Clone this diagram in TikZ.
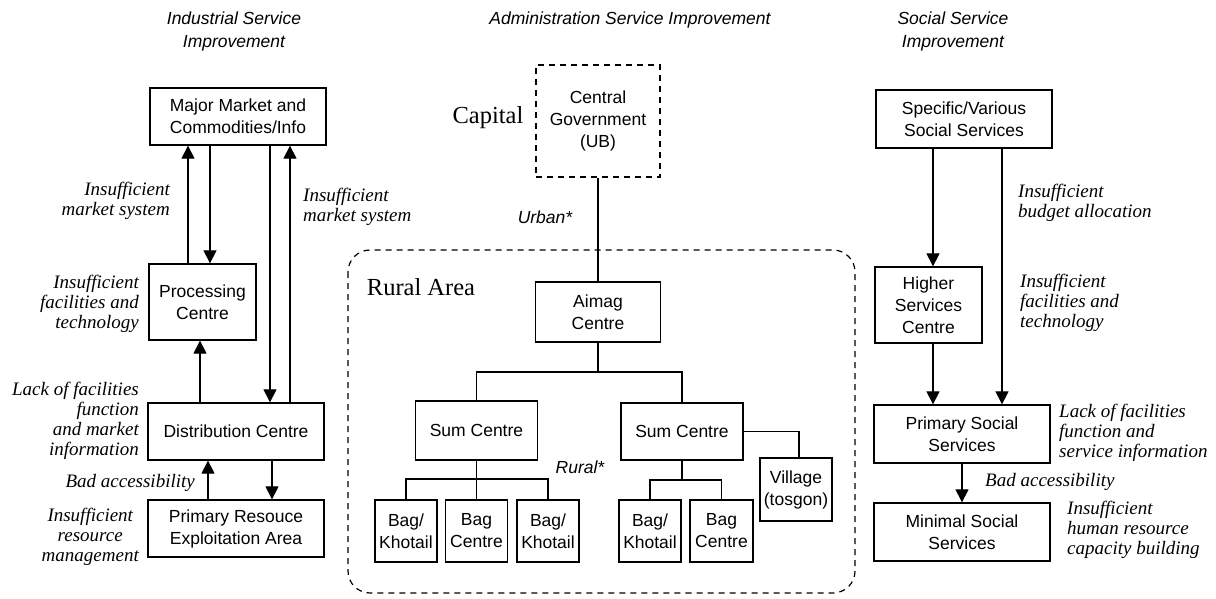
\documentclass[tikz,border=0pt]{standalone}
\usepackage{fontspec}
\setmainfont{Liberation Serif}
\setsansfont{Liberation Sans}
\usetikzlibrary{arrows.meta}
\begin{document}
\begin{tikzpicture}[x=1pt,y=-1pt,
  box/.style={draw, rectangle, line width=1.3pt, align=center, inner sep=0pt,
              font=\sffamily\fontsize{17.5}{22}\selectfont},
  dbox/.style={box, dashed, line width=1.1pt, dash pattern=on 6pt off 5pt},
  ln/.style={line width=1.2pt},
  arr/.style={line width=1.2pt, -{Triangle[width=13pt,length=13pt]}},
  lab/.style={inner sep=0pt, font=\itshape\fontsize{19}{20}\selectfont},
  ttl/.style={inner sep=0pt, align=center, font=\sffamily\itshape\fontsize{17.5}{23}\selectfont},
  big/.style={inner sep=0pt, font=\fontsize{24.5}{26}\selectfont}]
\fill[white] (0,0) rectangle (1216,599);
\useasboundingbox (0,0) rectangle (1216,599);

% titles
\node[ttl] (t1) at (234,31) {Industrial Service\\Improvement};
\node[ttl] (t2) at (630,20) {Administration Service Improvement};
\node[ttl] (t3) at (953,31) {Social Service\\Improvement};

% left column
\node[box, minimum width=176pt, minimum height=57pt] (mm) at (238,116.5) {Major Market and\\Commodities/Info};
\node[box, minimum width=107pt, minimum height=76pt] (pc) at (202.5,302) {Processing\\Centre};
\node[box, minimum width=176pt, minimum height=57pt] (dc) at (236,431.5) {Distribution Centre};
\node[box, minimum width=176pt, minimum height=57pt] (pr) at (236,528.5) {Primary Resouce\\Exploitation Area};

\draw[arr] (pc.north -| 188,0) -- (mm.south -| 188,0);
\draw[arr] (mm.south -| 210,0) -- (pc.north -| 210,0);
\draw[arr] (mm.south -| 270,0) -- (dc.north -| 270,0);
\draw[arr] (dc.north -| 290,0) -- (mm.south -| 290,0);
\draw[arr] (dc.north -| 200,0) -- (pc.south -| 200,0);
\draw[arr] (pr.north -| 208,0) -- (dc.south -| 208,0);
\draw[arr] (dc.south -| 272,0) -- (pr.north -| 272,0);

\node[lab, align=right, anchor=east] (l1) at (170,201) {Insufficient\\market system};
\node[lab, align=left, anchor=west] (l2) at (303,207) {Insufficient\\market system};
\node[lab, align=right, anchor=east] (l3) at (139,304) {Insufficient\\facilities and\\technology};
\node[lab, align=right, anchor=east] (l4) at (139,421) {Lack of facilities\\function\\and market\\information};
\node[lab, anchor=east] (l5) at (195,483) {Bad accessibility};
\node[lab, align=center, anchor=east] (l6) at (139,537) {Insufficient\\resource\\management};

% middle
\draw[ln, dashed, dash pattern=on 6pt off 5pt, rounded corners=22pt] (348,250) rectangle (855,593);
\node[dbox, minimum width=124pt, minimum height=112pt] (cg) at (598,121) {Central\\Government\\(UB)};
\node[big] (cap) at (488,118) {Capital};
\node[big] (ra) at (421,287) {Rural Area};
\node[ttl] (urb) at (545,217) {Urban*};
\node[ttl] (rur) at (580,467) {Rural*};

\node[box, minimum width=125pt, minimum height=60pt] (ac) at (598,312) {Aimag\\Centre};
\node[box, minimum width=122pt, minimum height=59pt] (sl) at (476.5,430.5) {Sum Centre};
\node[box, minimum width=122pt, minimum height=57pt] (sr) at (682,431.5) {Sum Centre};
\node[box, minimum width=72pt, minimum height=63pt] (vil) at (796,489.5) {Village\\(tosgon)};
\node[box, minimum width=62pt, minimum height=62pt] (b1) at (406,531) {Bag/\\Khotail};
\node[box, minimum width=62pt, minimum height=62pt] (b2) at (476.5,531) {Bag\\Centre};
\node[box, minimum width=62pt, minimum height=62pt] (b3) at (548,531) {Bag/\\Khotail};
\node[box, minimum width=62pt, minimum height=62pt] (b4) at (650,531) {Bag/\\Khotail};
\node[box, minimum width=63pt, minimum height=62pt] (b5) at (721.5,531) {Bag\\Centre};

\coordinate (j1) at (598,372);
\coordinate (j2) at (476.5,479);
\coordinate (j3) at (682,480);
\draw[ln] (cg.south) -- (ac.north);
\draw[ln] (ac.south) -- (j1);
\draw[ln] (sl.north) |- (j1) -| (sr.north);
\draw[ln] (sl.south) -- (b2.north);
\draw[ln] (b1.north) |- (j2) -| (b3.north);
\draw[ln] (sr.south) -- (j3);
\draw[ln] (b4.north) |- (j3) -| (b5.north);
\draw[ln] (sr.east) -| (vil.north -| 799,0);

% right column
\node[box, minimum width=176pt, minimum height=58pt] (ss) at (964,119) {Specific/Various\\Social Services};
\node[box, minimum width=107pt, minimum height=76pt] (hs) at (928.5,305) {Higher\\Services\\Centre};
\node[box, minimum width=176pt, minimum height=58pt] (ps) at (962,434) {Primary Social\\Services};
\node[box, minimum width=176pt, minimum height=58pt] (ms) at (962,532) {Minimal Social\\Services};

\draw[arr] (ss.south -| 933,0) -- (hs.north -| 933,0);
\draw[arr] (ss.south -| 1002,0) -- (ps.north -| 1002,0);
\draw[arr] (hs.south -| 933,0) -- (ps.north -| 933,0);
\draw[arr] (ps.south) -- (ms.north);

\node[lab, align=left, anchor=west] (r1) at (1018,203) {Insufficient\\budget allocation};
\node[lab, align=left, anchor=west] (r2) at (1020,303) {Insufficient\\facilities and\\technology};
\node[lab, align=left, anchor=west] (r3) at (1059,433) {Lack of facilities\\function and\\service information};
\node[lab, anchor=west] (r4) at (985,482) {Bad accessibility};
\node[lab, align=left, anchor=west] (r5) at (1067,530) {Insufficient\\human resource\\capacity building};
\end{tikzpicture}
\end{document}
